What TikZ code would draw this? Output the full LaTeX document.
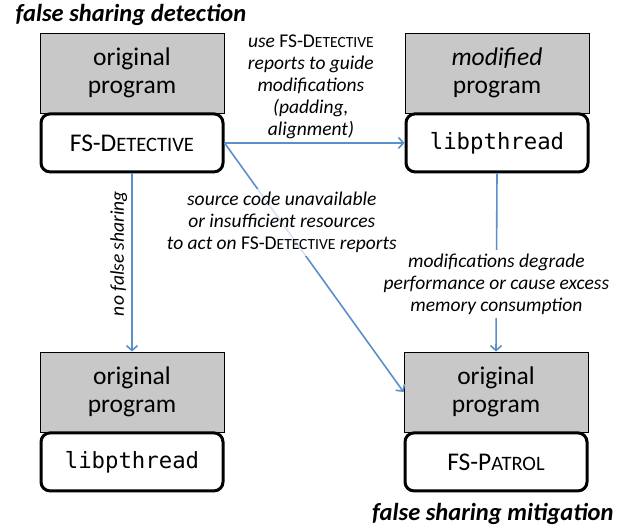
\documentclass[tikz,border=0pt]{standalone}
\usepackage{fontspec}
\setmainfont{Carlito}
\setmonofont{DejaVu Sans Mono}
\usepackage{xcolor}
\definecolor{flowblue}{HTML}{5B8FC9}
\definecolor{boxgray}{HTML}{C8C8C8}
\usepackage{tikz}
\usetikzlibrary{
  arrows.meta,
  positioning
}
% fake small caps for the tool names
\newcommand{\smcap}[2]{{\fontsize{#1}{#1}\selectfont #2}}

\begin{document}
\begin{tikzpicture}[
  x=1pt, y=-1pt,
  graybox/.style={rectangle, draw=black, fill=boxgray, line width=0.8pt, minimum width=184pt, minimum height=80pt, align=center, font=\fontsize{25.5}{28}\selectfont},
  toolbox/.style={rectangle, rounded corners=9pt, draw=black, fill=white, line width=3pt, minimum width=182pt, minimum height=58pt, font=\fontsize{25.5}{28}\selectfont},
  libtext/.style={font=\fontsize{22.3}{24}\selectfont\ttfamily},
  flow/.style={-{Straight Barb[length=5pt, width=11pt]}, line width=1.6pt, flowblue},
  note/.style={align=center, font=\fontsize{19.5}{22}\selectfont\itshape, text=black},
  heading/.style={font=\fontsize{24.5}{26}\selectfont\bfseries\itshape}
]
\useasboundingbox (0,0) rectangle (626,531);

% Cajas
\node[graybox] (orig1) at (132,73) {original\\program};
\node[toolbox, below=-1pt of orig1] (det) {FS-D\smcap{20.5}{ETECTIVE}};
\node[graybox] (mod) at (497,73) {\textit{modified}\\program};
\node[toolbox, libtext, below=-1pt of mod] (lib1) {libpthread};
\node[graybox] (orig2) at (132,392) {original\\program};
\node[toolbox, libtext, below=-1pt of orig2] (lib2) {libpthread};
\node[graybox] (orig3) at (496,392) {original\\program};
\node[toolbox, below=-1pt of orig3] (patrol) {FS-P\smcap{20.5}{ATROL}};

% Titulos
\node[heading, anchor=base west] (dettitle) at (12,21) {false sharing detection};
\node[heading, anchor=base east] (mittitle) at (617,520) {false sharing mitigation};

% Flechas
\draw[flow] (det.east) -- node[note, above, pos=0.48] (usenote) {use \upshape FS-D\smcap{15.5}{ETECTIVE}\\reports to guide\\modifications\\(padding,\\alignment)} (lib1.west);
\draw[flow] (det.east) -- node[note, pos=0.32, fill=white, fill opacity=0.75, text opacity=1] (srcnote) {source code unavailable\\or insufficient resources\\to act on \upshape FS-D\smcap{15.5}{ETECTIVE} \itshape reports} (orig3.west);
\draw[flow] (det.south) -- node[note, pos=0.45, rotate=90, anchor=south, inner sep=4pt] (nonote) {no false sharing} (orig2.north);
\draw[flow] (lib1.south) -- node[note, pos=0.62, fill=white] (degnote) {modifications degrade\\performance or cause excess\\memory consumption} (orig3.north);

\end{tikzpicture}
\end{document}
